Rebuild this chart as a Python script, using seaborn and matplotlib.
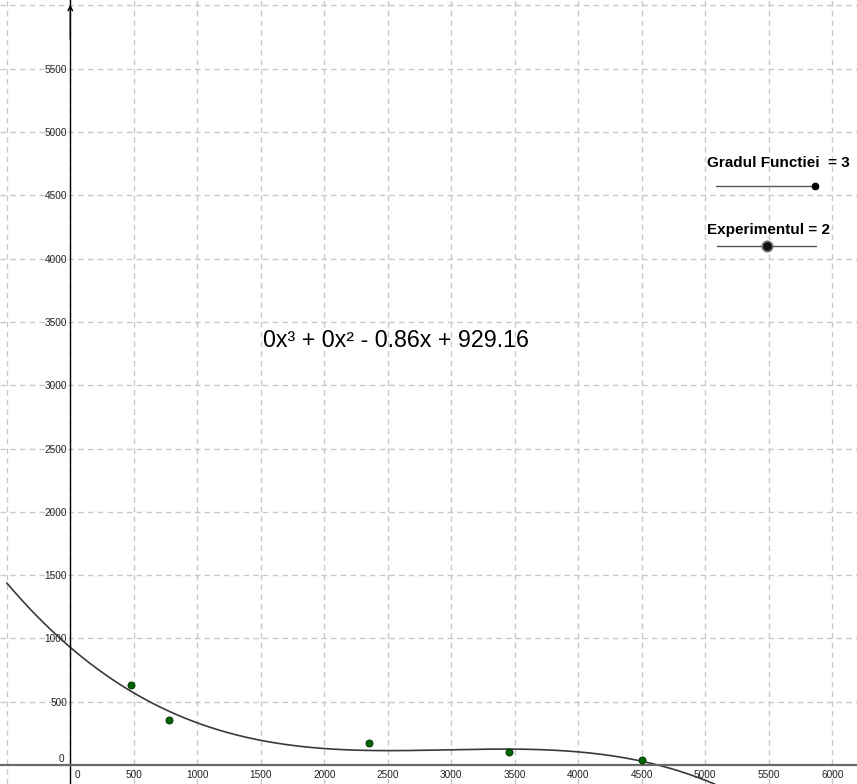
import numpy as np
import pandas as pd
import matplotlib
matplotlib.use("Agg")
import matplotlib.pyplot as plt
import seaborn as sns

# ---- data ----
x_points = [475, 777, 2352, 3452, 4499]
y_points = [630, 358, 171, 105, 39]
# cubic fit coefficients (highest power first), label shows rounded values
fit_coeffs = [-3.34e-8, 2.97e-4, -0.86, 929.16]
curve_domain = [-500, 5300]
x_tick_values = [500, 1000, 1500, 2000, 2500, 3000, 3500, 4000, 4500, 5000, 5500, 6000]
y_tick_values = [500, 1000, 1500, 2000, 2500, 3000, 3500, 4000, 4500, 5000, 5500]
grid_x = list(range(-500, 6501, 500))
grid_y = list(range(500, 6001, 500))
formula_label = "0x³ + 0x² - 0.86x + 929.16"
slider1_label = "Gradul Functiei  = 3"
slider2_label = "Experimentul = 2"

XLIM = (-553.5, 6194.5)
YLIM = (-150.1, 6042.7)

sns.set_theme(style="white")
plt.rcParams["font.family"] = ["Liberation Sans", "DejaVu Sans"]

fig = plt.figure(figsize=(8.57, 7.84), dpi=100)
ax = fig.add_axes([0, 0, 1, 1])

# dashed grid
for gx in grid_x:
    ax.axvline(gx, color="#c8c8c8", linestyle=(0, (4, 3)), linewidth=1, zorder=0)
for gy in grid_y:
    ax.axhline(gy, color="#c8c8c8", linestyle=(0, (4, 3)), linewidth=1, zorder=0)

# axes through origin
for side in ["top", "right"]:
    ax.spines[side].set_visible(False)
ax.spines["left"].set_position(("data", 0))
ax.spines["bottom"].set_position(("data", 0))
ax.spines["left"].set_color("black")
ax.spines["left"].set_linewidth(1.0)
ax.spines["bottom"].set_color("#6a6a6a")
ax.spines["bottom"].set_linewidth(1.6)

# fitted curve
xs = np.linspace(curve_domain[0], curve_domain[1], 600)
curve_df = pd.DataFrame({"x": xs, "y": np.polyval(fit_coeffs, xs)})
sns.lineplot(data=curve_df, x="x", y="y", ax=ax, color="#3a3a3a", linewidth=1.2,
             sort=False, estimator=None)

# data points
pts_df = pd.DataFrame({"x": x_points, "y": y_points})
sns.scatterplot(data=pts_df, x="x", y="y", ax=ax, color="#006400",
                edgecolor="#003000", linewidth=0.6, s=26, zorder=5)

ax.set_xlabel("")
ax.set_ylabel("")

ax.set_xticks(x_tick_values)
ax.set_xticklabels([str(v) for v in x_tick_values])
ax.set_yticks(y_tick_values)
ax.set_yticklabels([str(v) for v in y_tick_values])
ax.tick_params(axis="both", which="major", direction="out", length=2.2, width=0.8,
               color="#333333", labelsize=7.2, labelcolor="#222222")
ax.tick_params(axis="x", pad=1.2)
ax.tick_params(axis="y", pad=0)

# zero labels
ax.annotate("0", xy=(0, 0), xytext=(7.5, -10), textcoords="offset pixels",
            ha="center", va="center", fontsize=7.2, color="#222222")
ax.annotate("0", xy=(0, 0), xytext=(-6, 6), textcoords="offset pixels",
            ha="right", va="center", fontsize=7.2, color="#222222")

# arrow at top of y-axis
ax.annotate("", xy=(0, 0.994), xytext=(0, 0.95),
            xycoords=("data", "axes fraction"), textcoords=("data", "axes fraction"),
            arrowprops=dict(arrowstyle="->", lw=1.0, color="black",
                            shrinkA=0, shrinkB=0, mutation_scale=8))

# formula text
ax.text(0.307, 0.5663, formula_label, transform=ax.transAxes, ha="left",
        va="center", fontsize=16.75, color="black")

# sliders
ax.text(0.825, 0.792, slider1_label, transform=ax.transAxes, ha="left",
        va="center", fontsize=11, fontweight="bold", color="black")
ax.plot([0.8355, 0.951], [0.7628, 0.7628], transform=ax.transAxes,
        color="#555555", lw=1.0)
ax.plot([0.951], [0.7628], transform=ax.transAxes, marker="o", ms=4.5,
        color="black", zorder=6)

ax.text(0.825, 0.7066, slider2_label, transform=ax.transAxes, ha="left",
        va="center", fontsize=11, fontweight="bold", color="black")
ax.plot([0.8365, 0.952], [0.6856, 0.6856], transform=ax.transAxes,
        color="#555555", lw=1.0)
ax.plot([0.8944], [0.6856], transform=ax.transAxes, marker="o", ms=7.5,
        color="#101010", markeredgecolor="#777777", markeredgewidth=1.2, zorder=6)

ax.set_xlim(*XLIM)
ax.set_ylim(*YLIM)

fig.savefig("out.png", dpi=100)
